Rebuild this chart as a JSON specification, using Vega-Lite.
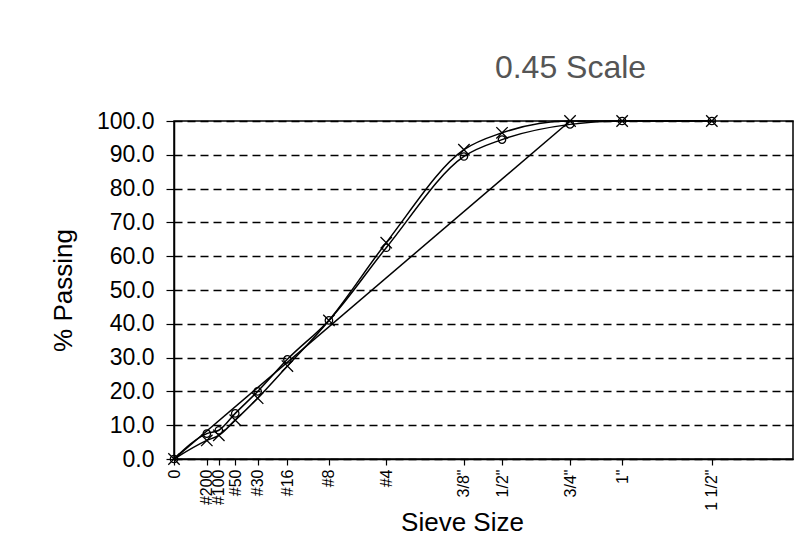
{
  "$schema": "https://vega.github.io/schema/vega-lite/v6.json",
  "width": 619,
  "height": 338,
  "autosize": {"type": "none"},
  "padding": {"left": 174, "top": 121, "right": 10, "bottom": 99},
  "background": "white",
  "config": {
    "font": "Liberation Sans",
    "view": {"stroke": "black", "strokeWidth": 1.5}
  },
  "title": {
    "text": "0.45 Scale",
    "font": "Liberation Sans",
    "fontSize": 32,
    "fontWeight": "normal",
    "color": "#555555",
    "anchor": "middle",
    "dx": 87,
    "offset": 25
  },
  "data": {
    "values": [
      {"series": "A", "sieve": "0", "x": 0, "pct": 0},
      {"series": "A", "sieve": "#200", "x": 0.3117, "pct": 5.5},
      {"series": "A", "sieve": "#100", "x": 0.4259, "pct": 7.0},
      {"series": "A", "sieve": "#50", "x": 0.5817, "pct": 11.5},
      {"series": "A", "sieve": "#30", "x": 0.7946, "pct": 18.0},
      {"series": "A", "sieve": "#16", "x": 1.0773, "pct": 27.5},
      {"series": "A", "sieve": "#8", "x": 1.4717, "pct": 41.0},
      {"series": "A", "sieve": "#4", "x": 2.016, "pct": 64.0},
      {"series": "A", "sieve": "3/8\"", "x": 2.754, "pct": 91.5},
      {"series": "A", "sieve": "1/2\"", "x": 3.116, "pct": 96.5},
      {"series": "A", "sieve": "3/4\"", "x": 3.762, "pct": 100},
      {"series": "A", "sieve": "1\"", "x": 4.257, "pct": 100},
      {"series": "A", "sieve": "1 1/2\"", "x": 5.109, "pct": 100},
      {"series": "B", "sieve": "0", "x": 0, "pct": 0},
      {"series": "B", "sieve": "#200", "x": 0.3117, "pct": 7.5},
      {"series": "B", "sieve": "#100", "x": 0.4259, "pct": 8.5},
      {"series": "B", "sieve": "#50", "x": 0.5817, "pct": 13.5},
      {"series": "B", "sieve": "#30", "x": 0.7946, "pct": 20.0},
      {"series": "B", "sieve": "#16", "x": 1.0773, "pct": 29.5},
      {"series": "B", "sieve": "#8", "x": 1.4717, "pct": 41.0},
      {"series": "B", "sieve": "#4", "x": 2.016, "pct": 62.5},
      {"series": "B", "sieve": "3/8\"", "x": 2.754, "pct": 89.5},
      {"series": "B", "sieve": "1/2\"", "x": 3.116, "pct": 94.5},
      {"series": "B", "sieve": "3/4\"", "x": 3.762, "pct": 99.0},
      {"series": "B", "sieve": "1\"", "x": 4.257, "pct": 100},
      {"series": "B", "sieve": "1 1/2\"", "x": 5.109, "pct": 100},
      {"series": "MaxDensity", "sieve": "0", "x": 0, "pct": 0},
      {"series": "MaxDensity", "sieve": "3/4\"", "x": 3.762, "pct": 100}
    ]
  },
  "encoding": {
    "x": {
      "field": "x",
      "type": "quantitative",
      "scale": {"domain": [0, 5.88], "nice": false, "zero": true},
      "axis": {
        "title": "Sieve Size",
        "titleFont": "Liberation Sans",
        "titleFontSize": 26,
        "titleFontWeight": "normal",
        "titleColor": "black",
        "titleX": 288,
        "titleY": 50,
        "titleBaseline": "top",
        "values": [0, 0.3117, 0.4259, 0.5817, 0.7946, 1.0773, 1.4717, 2.016, 2.754, 3.116, 3.762, 4.257, 5.109],
        "labelExpr": "datum.value < 0.1 ? '0' : datum.value < 0.35 ? '#200' : datum.value < 0.5 ? '#100' : datum.value < 0.7 ? '#50' : datum.value < 0.9 ? '#30' : datum.value < 1.2 ? '#16' : datum.value < 1.7 ? '#8' : datum.value < 2.3 ? '#4' : datum.value < 2.9 ? '3/8\"' : datum.value < 3.4 ? '1/2\"' : datum.value < 4 ? '3/4\"' : datum.value < 4.6 ? '1\"' : '1 1/2\"'",
        "labelAngle": 270,
        "labelFontSize": 16,
        "labelColor": "black",
        "labelOverlap": false,
        "labelPadding": 4,
        "labelFlush": false,
        "grid": false,
        "domainColor": "black",
        "domainWidth": 1.5,
        "tickColor": "black",
        "tickSize": 6,
        "tickWidth": 1.2
      }
    },
    "y": {
      "field": "pct",
      "type": "quantitative",
      "scale": {"domain": [0, 100], "nice": false},
      "axis": {
        "title": "% Passing",
        "titleFont": "Liberation Sans",
        "titleFontSize": 26,
        "titleFontWeight": "normal",
        "titleColor": "black",
        "titlePadding": 20,
        "values": [0, 10, 20, 30, 40, 50, 60, 70, 80, 90, 100],
        "format": ".1f",
        "labelFontSize": 23,
        "labelColor": "black",
        "labelPadding": 12,
        "labelFlush": false,
        "grid": true,
        "gridColor": "black",
        "gridDash": [8, 5],
        "gridWidth": 1.4,
        "domainColor": "black",
        "domainWidth": 1.5,
        "tickColor": "black",
        "tickSize": 8,
        "tickWidth": 1.2
      }
    }
  },
  "layer": [
    {
      "mark": {"type": "line", "color": "black", "strokeWidth": 1.5, "interpolate": "monotone"},
      "encoding": {"detail": {"field": "series", "type": "nominal"}}
    },
    {
      "transform": [{"filter": "datum.series === 'A'"}],
      "mark": {"type": "point", "shape": "M-1,-1L1,1M-1,1L1,-1", "filled": false, "stroke": "black", "strokeWidth": 1.3, "size": 130, "opacity": 1}
    },
    {
      "transform": [{"filter": "datum.series === 'B'"}],
      "mark": {"type": "point", "shape": "circle", "filled": false, "stroke": "black", "strokeWidth": 1.3, "size": 55, "opacity": 1}
    }
  ]
}
